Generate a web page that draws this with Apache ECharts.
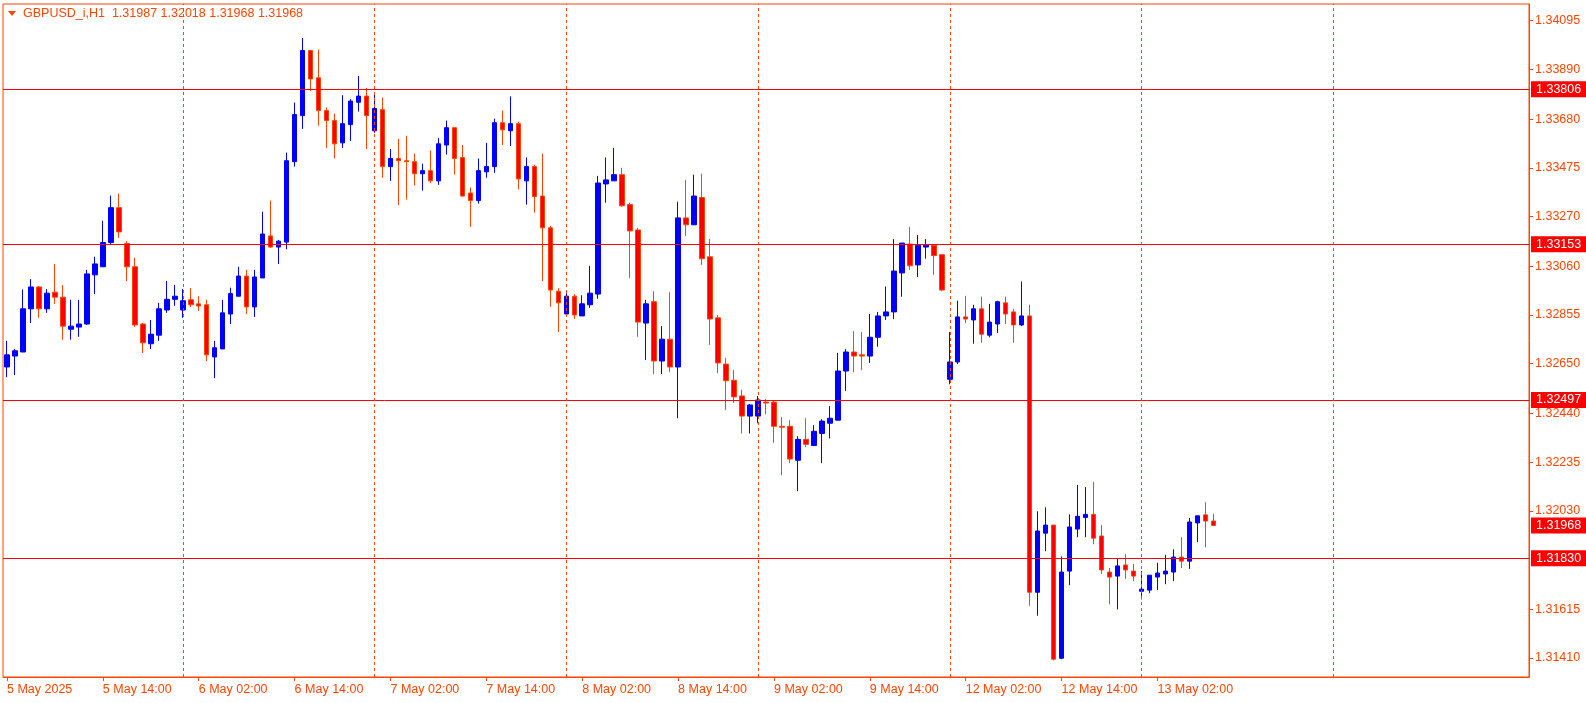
<!DOCTYPE html>
<html><head><meta charset="utf-8">
<script src="https://cdn.jsdelivr.net/npm/echarts@6/dist/echarts.min.js"></script>
<style>html,body{margin:0;padding:0;background:#fff}#c{width:1586px;height:703px}</style>
</head><body><div id="c"></div>
<script>
// [open, close, low, high], hourly from 5 May 2025 02:00
const candles = [
[1.32636,1.32687,1.32593,1.32746],[1.32682,1.32704,1.32602,1.32712],[1.32699,1.32881,1.32699,1.32962],[1.32881,1.32973,1.32821,1.33006],
[1.32973,1.32881,1.32843,1.32977],[1.32881,1.32947,1.32864,1.32964],[1.32951,1.32930,1.32902,1.33070],[1.32930,1.32808,1.32751,1.32981],
[1.32795,1.32808,1.32751,1.32919],[1.32804,1.32817,1.32763,1.32919],[1.32817,1.33028,1.32813,1.33045],[1.33024,1.33070,1.32943,1.33100],
[1.33058,1.33160,1.33058,1.33252],[1.33160,1.33307,1.33151,1.33358],[1.33307,1.33205,1.33179,1.33367],[1.33156,1.33058,1.32998,1.33166],
[1.33058,1.32813,1.32804,1.33096],[1.32817,1.32738,1.32695,1.32821],[1.32734,1.32774,1.32712,1.32834],[1.32770,1.32881,1.32746,1.32906],
[1.32876,1.32921,1.32864,1.32998],[1.32921,1.32934,1.32894,1.32981],[1.32876,1.32915,1.32843,1.32964],[1.32919,1.32898,1.32889,1.32968],
[1.32902,1.32893,1.32872,1.32934],[1.32898,1.32687,1.32661,1.32919],[1.32678,1.32717,1.32589,1.32746],[1.32712,1.32864,1.32712,1.32919],
[1.32859,1.32945,1.32817,1.32970],[1.32934,1.33019,1.32934,1.33058],[1.33019,1.32889,1.32859,1.33045],[1.32889,1.33015,1.32847,1.33045],
[1.33011,1.33196,1.33011,1.33290],[1.33188,1.33141,1.33137,1.33337],[1.33141,1.33166,1.33070,1.33171],[1.33162,1.33505,1.33132,1.33539],
[1.33501,1.33699,1.33480,1.33750],[1.33695,1.33969,1.33639,1.34022],[1.33969,1.33849,1.33798,1.33969],[1.33854,1.33716,1.33652,1.33973],
[1.33716,1.33674,1.33559,1.33729],[1.33674,1.33576,1.33514,1.33703],[1.33580,1.33661,1.33559,1.33781],[1.33657,1.33756,1.33588,1.33764],
[1.33751,1.33777,1.33712,1.33862],[1.33777,1.33695,1.33554,1.33811],[1.33631,1.33725,1.33622,1.33790],[1.33720,1.33480,1.33433,1.33771],
[1.33480,1.33514,1.33420,1.33554],[1.33514,1.33505,1.33318,1.33597],[1.33505,1.33501,1.33341,1.33610],[1.33501,1.33450,1.33401,1.33535],
[1.33450,1.33463,1.33379,1.33492],[1.33463,1.33420,1.33411,1.33548],[1.33420,1.33576,1.33403,1.33601],[1.33571,1.33644,1.33531,1.33674],
[1.33644,1.33514,1.33446,1.33644],[1.33518,1.33356,1.33354,1.33571],[1.33369,1.33337,1.33226,1.33392],[1.33337,1.33463,1.33324,1.33514],
[1.33458,1.33480,1.33433,1.33580],[1.33480,1.33665,1.33454,1.33682],[1.33665,1.33635,1.33571,1.33716],[1.33631,1.33661,1.33567,1.33776],
[1.33661,1.33428,1.33384,1.33669],[1.33420,1.33480,1.33320,1.33518],[1.33480,1.33354,1.33286,1.33488],[1.33356,1.33222,1.32998,1.33535],
[1.33222,1.32960,1.32889,1.33230],[1.32955,1.32906,1.32783,1.32968],[1.32859,1.32934,1.32859,1.32947],[1.32934,1.32855,1.32838,1.32943],
[1.32851,1.32902,1.32851,1.32938],[1.32898,1.32947,1.32885,1.33062],[1.32943,1.33411,1.32923,1.33441],[1.33407,1.33424,1.33328,1.33518],
[1.33420,1.33446,1.33420,1.33559],[1.33446,1.33315,1.33311,1.33475],[1.33320,1.33209,1.33011,1.33328],[1.33213,1.32825,1.32763,1.33222],
[1.32821,1.32902,1.32665,1.32919],[1.32911,1.32661,1.32606,1.32955],[1.32661,1.32753,1.32606,1.32808],[1.32753,1.32636,1.32614,1.32951],
[1.32636,1.33264,1.32420,1.33332],[1.33264,1.33235,1.33188,1.33424],[1.33235,1.33356,1.33235,1.33446],[1.33350,1.33092,1.33066,1.33450],
[1.33100,1.32838,1.32729,1.33175],[1.32843,1.32653,1.32610,1.32855],[1.32648,1.32578,1.32454,1.32674],[1.32580,1.32510,1.32484,1.32623],
[1.32514,1.32429,1.32356,1.32540],[1.32429,1.32476,1.32356,1.32480],[1.32429,1.32497,1.32399,1.32514],[1.32488,1.32484,1.32437,1.32501],
[1.32488,1.32386,1.32316,1.32493],[1.32386,1.32382,1.32180,1.32425],[1.32386,1.32248,1.32231,1.32412],[1.32243,1.32331,1.32113,1.32344],
[1.32331,1.32310,1.32299,1.32420],[1.32305,1.32365,1.32303,1.32391],[1.32356,1.32408,1.32231,1.32416],[1.32399,1.32420,1.32335,1.32471],
[1.32412,1.32619,1.32412,1.32695],[1.32619,1.32699,1.32535,1.32712],[1.32699,1.32682,1.32614,1.32787],[1.32687,1.32682,1.32623,1.32783],
[1.32682,1.32761,1.32653,1.32859],[1.32761,1.32851,1.32721,1.32868],[1.32851,1.32868,1.32834,1.32975],[1.32868,1.33040,1.32838,1.33175],
[1.33032,1.33158,1.32932,1.33158],[1.33154,1.33062,1.33045,1.33226],[1.33066,1.33149,1.33015,1.33192],[1.33141,1.33149,1.33092,1.33175],
[1.33149,1.33105,1.33024,1.33149],[1.33109,1.32960,1.32955,1.33109],[1.32584,1.32657,1.32563,1.32783],[1.32657,1.32847,1.32648,1.32915],
[1.32847,1.32838,1.32821,1.32936],[1.32834,1.32881,1.32734,1.32898],[1.32881,1.32774,1.32738,1.32932],[1.32770,1.32825,1.32761,1.32902],
[1.32817,1.32911,1.32779,1.32915],[1.32906,1.32859,1.32817,1.32932],[1.32868,1.32813,1.32738,1.32881],[1.32813,1.32851,1.32808,1.32996],
[1.32851,1.31687,1.31630,1.32898],[1.31687,1.31945,1.31588,1.32028],[1.31936,1.31970,1.31860,1.32045],[1.31970,1.31405,1.31400,1.31970],
[1.31409,1.31772,1.31405,1.31838],[1.31776,1.31962,1.31717,1.32015],[1.31953,1.32007,1.31919,1.32139],[1.32002,1.32015,1.31919,1.32130],
[1.32015,1.31915,1.31889,1.32152],[1.31924,1.31781,1.31764,1.31970],[1.31772,1.31751,1.31636,1.31789],[1.31755,1.31798,1.31615,1.31830],
[1.31802,1.31781,1.31743,1.31847],[1.31776,1.31755,1.31734,1.31806],[1.31691,1.31700,1.31657,1.31776],[1.31696,1.31759,1.31683,1.31759],
[1.31751,1.31768,1.31696,1.31811],[1.31764,1.31776,1.31721,1.31845],[1.31772,1.31835,1.31734,1.31868],[1.31835,1.31818,1.31789,1.31919],
[1.31818,1.31983,1.31785,1.32000],[1.31979,1.32009,1.31898,1.32009],[1.32013,1.31987,1.31877,1.32066],[1.31987,1.31968,1.31968,1.32018]
];
const levelLines = [1.33806, 1.33153, 1.32497, 1.31830];
const currentPrice = 1.31968;
const yTicks = [1.34095,1.33890,1.33680,1.33475,1.33270,1.33060,1.32855,1.32650,1.32440,1.32235,1.32030,1.31615,1.31410];
const tickIndex = [0,12,24,36,48,60,72,84,96,108,120,132,144];
const tickLabels = ['5 May 2025','5 May 14:00','6 May 02:00','6 May 14:00','7 May 02:00','7 May 14:00','8 May 02:00','8 May 14:00','9 May 02:00','9 May 14:00','12 May 02:00','12 May 14:00','13 May 02:00'];
const daySeparators = [22,46,70,94,118,142,166];
const titleText = 'GBPUSD_i,H1  1.31987 1.32018 1.31968 1.31968';
const TOTAL = 191;

// hourly categories, weekend skipped
const cats = [];
let t = Date.UTC(2025,4,5,2);
while (cats.length < TOTAL) {
  const d = new Date(t);
  const wd = d.getUTCDay();
  if (wd !== 0 && wd !== 6) cats.push(d.getUTCDate()+' May '+String(d.getUTCHours()).padStart(2,'0')+':00');
  t += 3600000;
}
const OR = '#ff4500';
const font = 'Liberation Sans';
const boxLabel = {show:true, position:'end', distance:2, formatter: p => Number(p.value).toFixed(5),
  backgroundColor:'#ff0000', color:'#ffffff', padding:[2,6,1,5], fontFamily:font, fontSize:12.5};
const mlData = [];
levelLines.forEach(v => mlData.push({yAxis:v, lineStyle:{color:'#ff0000', type:'solid', width:1}, label:boxLabel}));
mlData.push({yAxis:currentPrice, lineStyle:{color:'rgba(255,255,255,0)', width:1, type:'solid'}, label:boxLabel});
daySeparators.forEach(i => mlData.push({xAxis:cats[i], lineStyle:{color:OR, type:[3,3], width:1}, label:{show:false}}));

const chart = echarts.init(document.getElementById('c'));
chart.setOption({
  animation:false,
  backgroundColor:'#ffffff',
  grid:{left:3, right:57, top:4, bottom:26, show:true, borderColor:OR, borderWidth:1},
  xAxis:{type:'category', data:cats, boundaryGap:true,
    axisLine:{lineStyle:{color:OR}},
    axisTick:{show:true, alignWithLabel:true, length:4, lineStyle:{color:OR}, interval:(i)=>tickIndex.includes(i)},
    axisLabel:{interval:(i)=>tickIndex.includes(i), color:OR, fontFamily:font, fontSize:12.5, align:'left', margin:6,
      formatter:(v,i)=>{const k=tickIndex.indexOf(i); return k>=0?tickLabels[k]:'';}},
    splitLine:{show:false}},
  yAxis:{type:'value', position:'right', min:1.31330, max:1.34165, scale:true,
    axisLine:{show:true, lineStyle:{color:OR}},
    axisTick:{show:true, length:4, inside:false, customValues:yTicks, lineStyle:{color:OR}},
    axisLabel:{customValues:yTicks, color:OR, fontFamily:font, fontSize:12.5, margin:6, formatter:v=>v.toFixed(5)},
    splitLine:{show:false}},
  graphic:[
    {type:'polygon', shape:{points:[[8,11],[16,11],[12,16]]}, style:{fill:OR}},
    {type:'text', left:23, top:7, style:{text:titleText, fill:OR, font:'12.5px "Liberation Sans"'}}
  ],
  series:[{
    type:'candlestick', data:candles, barWidth:5,
    itemStyle:{color:'#0000ff', color0:'#ff0000', borderColor:'#0000ff', borderColor0:OR, borderWidth:1},
    markLine:{symbol:['none','none'], silent:true, animation:false, precision:5, data:mlData}
  }]
});
</script></body></html>
